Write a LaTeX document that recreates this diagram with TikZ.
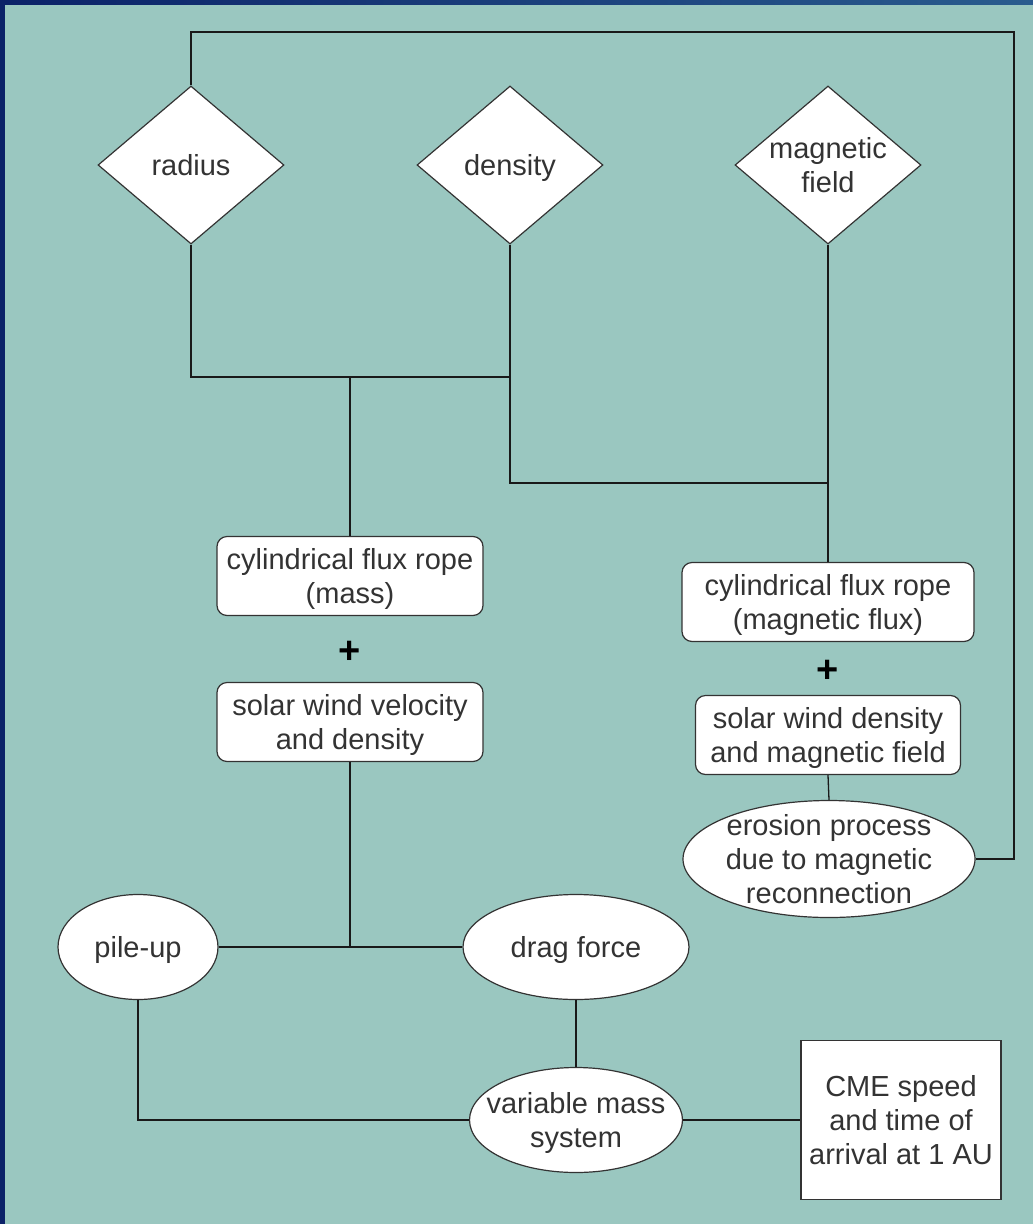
\documentclass[tikz,border=0pt]{standalone}
\usepackage{fontspec}
\setmainfont{Liberation Sans}
\usetikzlibrary{shapes.geometric}
\definecolor{sea}{HTML}{9AC7C0}
\definecolor{navy}{HTML}{0B2268}
\definecolor{steel}{HTML}{2A5C8E}
\definecolor{ink}{HTML}{333333}

\begin{document}
\begin{tikzpicture}[x=1pt,y=-1pt]
    \tikzset{txt/.style = {font=\fontsize{29}{34}\selectfont, text=ink, align=center, text height=27pt, text depth=7pt}}
    \tikzset{twolines/.style = {text height=61pt}, threelines/.style = {text height=95pt}}
    \tikzset{param/.style = {txt, shape=diamond, draw=ink, fill=white, line width=1.2pt, minimum width=186pt, minimum height=158pt, inner sep=-20pt}}
    \tikzset{model/.style = {txt, twolines, shape=rectangle, rounded corners=10pt, draw=ink, fill=white, line width=1.2pt, minimum width=266pt, minimum height=79pt}}
    \tikzset{effect/.style = {txt, shape=ellipse, draw=ink, fill=white, line width=1.2pt, inner sep=-30pt}}
    \tikzset{plus/.style = {font=\fontsize{38}{40}\selectfont\bfseries, text=black}}
    \tikzset{edge/.style = {draw=black!90, line width=1.3pt, -}}

    % background
    \useasboundingbox (0,0) rectangle (1033,1224);
    \fill[sea] (0,0) rectangle (1033,1224);
    \fill[navy] (0,0) rectangle (5,1224);
    \shade[left color=navy, right color=steel] (0,0) rectangle (1033,4);

    % vertices
    \node[param] (radius) at (191,165) {radius};
    \node[param] (density) at (510,165) {density};
    \node[param, twolines] (field) at (828,165) {magnetic\\field};

    \node[model] (massrope) at (350,576) {cylindrical flux rope\\(mass)};
    \node[plus] (plusa) at (350,652) {+};
    \node[model] (swvel) at (350,722) {solar wind velocity\\and density};

    \node[model, minimum width=292pt] (fluxrope) at (828,602) {cylindrical flux rope\\(magnetic flux)};
    \node[plus] (plusb) at (828,671) {+};
    \node[model, minimum width=265pt] (swfield) at (828,735) {solar wind density\\and magnetic field};

    \node[effect, threelines, minimum width=292pt, minimum height=117pt] (erosion) at (829,859) {erosion process\\due to magnetic\\reconnection};
    \node[effect, minimum width=160pt, minimum height=105pt] (pileup) at (138,947) {pile-up};
    \node[effect, minimum width=226pt, minimum height=105pt] (drag) at (576,947) {drag force};
    \node[effect, twolines, minimum width=213pt, minimum height=105pt] (varmass) at (576,1120) {variable mass\\system};
    \node[txt, threelines, draw=ink, fill=white, line width=1.2pt, minimum width=200pt, minimum height=159pt] (cme) at (901,1120) {CME speed\\and time of\\arrival at 1 AU};

    \coordinate (loop) at (1014,32);
    \coordinate (jmass) at (350,377);
    \coordinate (jflux) at (828,483);

    % edges
    \draw[edge] (radius.north) |- (loop) |- (erosion.east);
    \draw[edge] (radius.south) |- (jmass) -| (density.south);
    \draw[edge] (jmass) -- (massrope.north);
    \draw[edge] (density.south) |- (jflux);
    \draw[edge] (field.south) -- (fluxrope.north);
    \draw[edge] (swfield.south) -- (erosion.north);
    \draw[edge] (pileup.east) -- (drag.west);
    \draw[edge] (swvel.south) -- (swvel.south |- pileup.east);
    \draw[edge] (drag.south) -- (varmass.north);
    \draw[edge] (pileup.south) |- (varmass.west);
    \draw[edge] (varmass.east) -- (cme.west);
\end{tikzpicture}
\end{document}
